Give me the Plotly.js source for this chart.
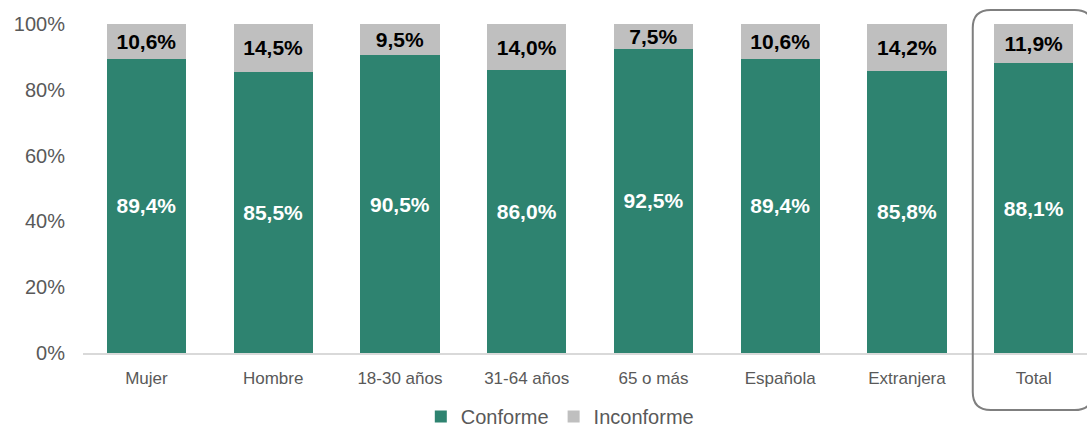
<!DOCTYPE html>
<html><head><meta charset="utf-8">
<script src="https://cdn.plot.ly/plotly-3.0.1.min.js"></script>
<style>html,body{margin:0;padding:0;background:#fff}#chart{width:1087px;height:432px}</style>
</head><body><div id="chart"></div>
<script>
const categories = ["Mujer","Hombre","18-30 años","31-64 años","65 o más","Española","Extranjera","Total"];
const conforme = [89.4,85.5,90.5,86.0,92.5,89.4,85.8,88.1];
const inconforme = [10.6,14.5,9.5,14.0,7.5,10.6,14.2,11.9];
const yTicks = [0,20,40,60,80,100];

const fmt = v => v.toFixed(1).replace('.', ',') + '%';

const traces = [
  {type:'bar', name:'Conforme', x:categories, y:conforme,
   marker:{color:'#2E8370'}, text:conforme.map(fmt), textposition:'inside',
   insidetextanchor:'middle', textangle:0,
   textfont:{family:'Liberation Sans, Arial', size:21, color:'#ffffff', weight:'bold'},
   hoverinfo:'none'},
  {type:'bar', name:'Inconforme', x:categories, y:inconforme,
   marker:{color:'#BFBFBF'}, text:inconforme.map(fmt), textposition:'inside',
   insidetextanchor:'middle', textangle:0, constraintext:'none',
   textfont:{family:'Liberation Sans, Arial', size:21, color:'#000000', weight:'bold'},
   hoverinfo:'none'}
];

const layout = {
  width:1087, height:432,
  margin:{l:83, r:0, t:24, b:79},
  barmode:'stack', bargap:0.375,
  paper_bgcolor:'#fff', plot_bgcolor:'#fff',
  font:{family:'Liberation Sans, Arial', color:'#595959'},
  xaxis:{type:'category', range:[-0.5,7.42], showgrid:false, zeroline:false,
    showline:true, linecolor:'#D9D9D9', linewidth:2, ticks:'',
    tickfont:{size:17, color:'#595959'}, ticklabelstandoff:9, automargin:false},
  yaxis:{range:[0,100], tickvals:yTicks, ticktext:yTicks.map(v=>v+'%'),
    showgrid:false, zeroline:false, showline:false, ticks:'',
    tickfont:{size:20, color:'#595959'}, ticklabelstandoff:17, automargin:false},
  showlegend:true,
  legend:{orientation:'h', x:0.515, xanchor:'center', xref:'container', yref:'container', y:0.036, yanchor:'middle',
    font:{size:20, color:'#595959'}, itemwidth:30, traceorder:'normal'},
  uniformtext:{mode:false}
};

Plotly.newPlot('chart', traces, layout, {staticPlot:true, displayModeBar:false}).then(gd => {
  const fl = gd._fullLayout;
  const xa = fl.xaxis;
  const cx = fl.margin.l + xa.l2p(7);
  const left = cx - 61, right = cx + 59, top = 10, bottom = 410, r = 18;
  const toPX = v => (v - fl._size.l) / fl._size.w;
  const toPY = v => 1 - (v - fl._size.t) / fl._size.h;
  const path = `M ${toPX(left+r)},${toPY(top)} L ${toPX(right-r)},${toPY(top)} Q ${toPX(right)},${toPY(top)} ${toPX(right)},${toPY(top+r)} L ${toPX(right)},${toPY(bottom-r)} Q ${toPX(right)},${toPY(bottom)} ${toPX(right-r)},${toPY(bottom)} L ${toPX(left+r)},${toPY(bottom)} Q ${toPX(left)},${toPY(bottom)} ${toPX(left)},${toPY(bottom-r)} L ${toPX(left)},${toPY(top+r)} Q ${toPX(left)},${toPY(top)} ${toPX(left+r)},${toPY(top)} Z`;
  Plotly.relayout(gd, {shapes:[{type:'path', xref:'paper', yref:'paper', path:path,
    line:{color:'#7F7F7F', width:2}, fillcolor:'rgba(0,0,0,0)', layer:'above'}]});
});
</script>
</body></html>
